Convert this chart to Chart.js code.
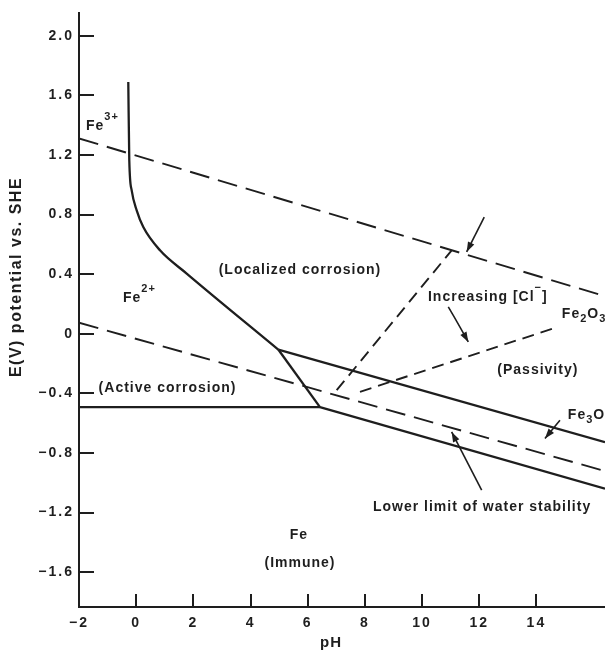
<!DOCTYPE html>
<html>
<head>
<meta charset="utf-8">
<script src="https://cdn.jsdelivr.net/npm/chart.js@4.4.1/dist/chart.umd.min.js"></script>
<style>
  html, body { margin: 0; padding: 0; background: #fff; }
  #wrap { width: 605px; height: 651px; position: relative; }
</style>
</head>
<body>
<div id="wrap"><canvas id="pourbaix"></canvas></div>
<script>
// Tick values (pH on x, E in volts vs SHE on y)
const xTicks = [-2, 0, 2, 4, 6, 8, 10, 12, 14];
const yTicks = [-1.6, -1.2, -0.8, -0.4, 0, 0.4, 0.8, 1.2, 1.6, 2.0];

// Boundary lines as {pH, E}
const oxygenLine = [{x: -2, y: 1.311}, {x: 16.4, y: 0.252}];
const hydrogenLine = [{x: -2, y: 0.074}, {x: 16.4, y: -0.922}];
const fe2Fe3Curve = [
    {x: -0.276, y: 1.689}, {x: -0.241, y: 1.164}, {x: -0.157, y: 0.962},
    {x: 0.018, y: 0.828}, {x: 0.249, y: 0.716}, {x: 0.833, y: 0.560},
    {x: 1.767, y: 0.404}, {x: 4.971, y: -0.106}
];
const fe2Fe3O4Line = [{x: 4.971, y: -0.106}, {x: 6.429, y: -0.493}];
const feFe2Line = [{x: -2, y: -0.493}, {x: 6.429, y: -0.493}];
const fe3o4UpperLine = [{x: 4.971, y: -0.106}, {x: 16.4, y: -0.728}];
const fe3o4LowerLine = [{x: 6.429, y: -0.493}, {x: 16.4, y: -1.040}];
const pittingLine = [{x: 7.014, y: -0.379}, {x: 11.036, y: 0.560}];
const fe2o3Line = [{x: 7.829, y: -0.390}, {x: 14.579, y: 0.035}];

// Pointer arrows (last point is the tip)
const chlorideTopArrow = [{x: 12.176, y: 0.783}, {x: 11.56, y: 0.549}];
const chlorideArrow = [{x: 10.918, y: 0.180}, {x: 11.327, y: 0.045}, {x: 11.618, y: -0.055}];
const fe3o4Arrow = [{x: 14.824, y: -0.580}, {x: 14.3, y: -0.703}];
const waterArrow = [{x: 12.085, y: -1.050}, {x: 11.035, y: -0.659}];

const ink = '#1e1e1e';
const family = '"Liberation Sans", Arial, Helvetica, sans-serif';

// Region labels, anchored in data units
const regionLabels = [
    {parts: [{t: 'Fe'}, {t: '3+', sup: true}], x: -1.755, y: 1.365},
    {parts: [{t: 'Fe'}, {t: '2+', sup: true}], x: -0.461, y: 0.211},
    {parts: [{t: 'Increasing [Cl'}, {t: '−', sup: true}, {t: ']'}], x: 10.207, y: 0.220},
    {parts: [{t: 'Fe'}, {t: '2', sub: true}, {t: 'O'}, {t: '3', sub: true}], x: 14.89, y: 0.104},
    {parts: [{t: 'Fe'}, {t: '3', sub: true}, {t: 'O'}, {t: '4', sub: true}], x: 15.10, y: -0.573},
    {text: '(Localized corrosion)', x: 5.73, y: 0.426},
    {text: '(Active corrosion)', x: 1.096, y: -0.366},
    {text: '(Passivity)', x: 14.05, y: -0.245},
    {text: 'Lower limit of water stability', x: 12.10, y: -1.164},
    {text: 'Fe', x: 5.69, y: -1.351},
    {text: '(Immune)', x: 5.73, y: -1.539}
];

function line(data, dashed, extra) {
    return Object.assign({
        data: data,
        showLine: true,
        borderColor: ink,
        borderWidth: dashed ? 1.9 : 2.3,
        borderDash: dashed ? dashed : [],
        pointRadius: 0,
        tension: 0
    }, extra || {});
}

const minus = s => s.replace('-', '−');
const fmtX = v => minus(String(v));
const fmtY = v => Math.abs(v) < 1e-9 ? '0' : minus(v.toFixed(1));

const textPlugin = {
    id: 'pourbaixText',
    beforeDraw(chart) {
        chart.ctx.letterSpacing = '2px';
    },
    afterDatasetsDraw(chart) {
        const ctx = chart.ctx;
        // arrow heads at the last point of each pointer
        chart.data.datasets.forEach((ds, i) => {
            if (!ds.arrow) return;
            const pts = chart.getDatasetMeta(i).data;
            const a = pts[pts.length - 2], b = pts[pts.length - 1];
            const ang = Math.atan2(b.y - a.y, b.x - a.x);
            ctx.save();
            ctx.fillStyle = ink;
            ctx.translate(b.x, b.y);
            ctx.rotate(ang);
            ctx.beginPath();
            ctx.moveTo(0, 0);
            ctx.lineTo(-10, -3.5);
            ctx.lineTo(-10, 3.5);
            ctx.closePath();
            ctx.fill();
            ctx.restore();
        });
    },
    afterDraw(chart) {
        const ctx = chart.ctx;
        const xs = chart.scales.x, ys = chart.scales.y;
        const area = chart.chartArea;
        ctx.save();
        ctx.strokeStyle = ink;
        ctx.lineWidth = 2;
        // inward tick marks
        yTicks.forEach(v => {
            const py = Math.round(ys.getPixelForValue(v));
            ctx.beginPath();
            ctx.moveTo(area.left, py);
            ctx.lineTo(area.left + 15, py);
            ctx.stroke();
        });
        xTicks.forEach(v => {
            const px = Math.round(xs.getPixelForValue(v));
            ctx.beginPath();
            ctx.moveTo(px, area.bottom);
            ctx.lineTo(px, area.bottom - 13);
            ctx.stroke();
        });

        ctx.fillStyle = ink;
        ctx.letterSpacing = '1px';
        const mainFont = 'bold 14px ' + family;
        const smallFont = 'bold 11px ' + family;
        regionLabels.forEach(l => {
            const px = xs.getPixelForValue(l.x);
            const py = ys.getPixelForValue(l.y);
            if (l.text) {
                ctx.font = mainFont;
                ctx.textAlign = 'center';
                ctx.textBaseline = 'middle';
                ctx.fillText(l.text, px, py);
                return;
            }
            ctx.textAlign = 'left';
            ctx.textBaseline = 'alphabetic';
            let cx = px;
            l.parts.forEach(p => {
                ctx.font = (p.sup || p.sub) ? smallFont : mainFont;
                const dy = p.sup ? -10 : (p.sub ? 4 : 0);
                ctx.fillText(p.t, cx, py + dy);
                cx += ctx.measureText(p.t).width;
            });
        });

        // axis titles
        ctx.font = 'bold 15px ' + family;
        ctx.textAlign = 'center';
        ctx.textBaseline = 'middle';
        ctx.fillText('pH', 331, 643);
        ctx.translate(17, 277);
        ctx.rotate(-Math.PI / 2);
        ctx.letterSpacing = '1.5px';
        ctx.font = 'bold 16px ' + family;
        ctx.fillText('E(V) potential vs. SHE', 0, 0);
        ctx.restore();
        ctx.letterSpacing = '0px';
    }
};

Chart.defaults.font.family = family;

new Chart(document.getElementById('pourbaix'), {
    type: 'scatter',
    data: {
        datasets: [
            line(oxygenLine, [20, 9]),
            line(hydrogenLine, [20, 9]),
            line(fe2Fe3Curve, null, {cubicInterpolationMode: 'monotone'}),
            line(fe2Fe3O4Line),
            line(feFe2Line),
            line(fe3o4UpperLine),
            line(fe3o4LowerLine),
            line(pittingLine, [12, 7]),
            line(fe2o3Line, [12, 7]),
            line(chlorideTopArrow, null, {borderWidth: 1.6, arrow: true}),
            line(chlorideArrow, null, {borderWidth: 1.6, arrow: true, tension: 0.3}),
            line(fe3o4Arrow, null, {borderWidth: 1.6, arrow: true}),
            line(waterArrow, null, {borderWidth: 1.6, arrow: true})
        ]
    },
    options: {
        responsive: true,
        maintainAspectRatio: false,
        animation: false,
        events: [],
        layout: {padding: {top: 13, right: 0, left: 0, bottom: 0}},
        plugins: {
            legend: {display: false},
            tooltip: {enabled: false}
        },
        scales: {
            x: {
                type: 'linear',
                min: -2,
                max: 16.4,
                afterBuildTicks: s => { s.ticks = xTicks.map(v => ({value: v})); },
                afterFit: s => { s.height = 44; },
                grid: {display: false, drawTicks: false},
                border: {display: true, color: ink, width: 2},
                ticks: {
                    color: ink,
                    font: {size: 14, weight: 'bold'},
                    padding: 8,
                    maxRotation: 0,
                    autoSkip: false,
                    callback: v => fmtX(v)
                }
            },
            y: {
                type: 'linear',
                min: -1.834,
                max: 2.15,
                afterBuildTicks: s => { s.ticks = yTicks.map(v => ({value: v})); },
                afterFit: s => { s.width = 79; },
                grid: {display: false, drawTicks: false},
                border: {display: true, color: ink, width: 2},
                ticks: {
                    color: ink,
                    font: {size: 14, weight: 'bold'},
                    padding: 5,
                    autoSkip: false,
                    callback: v => fmtY(v)
                }
            }
        }
    },
    plugins: [textPlugin]
});
</script>
</body>
</html>
